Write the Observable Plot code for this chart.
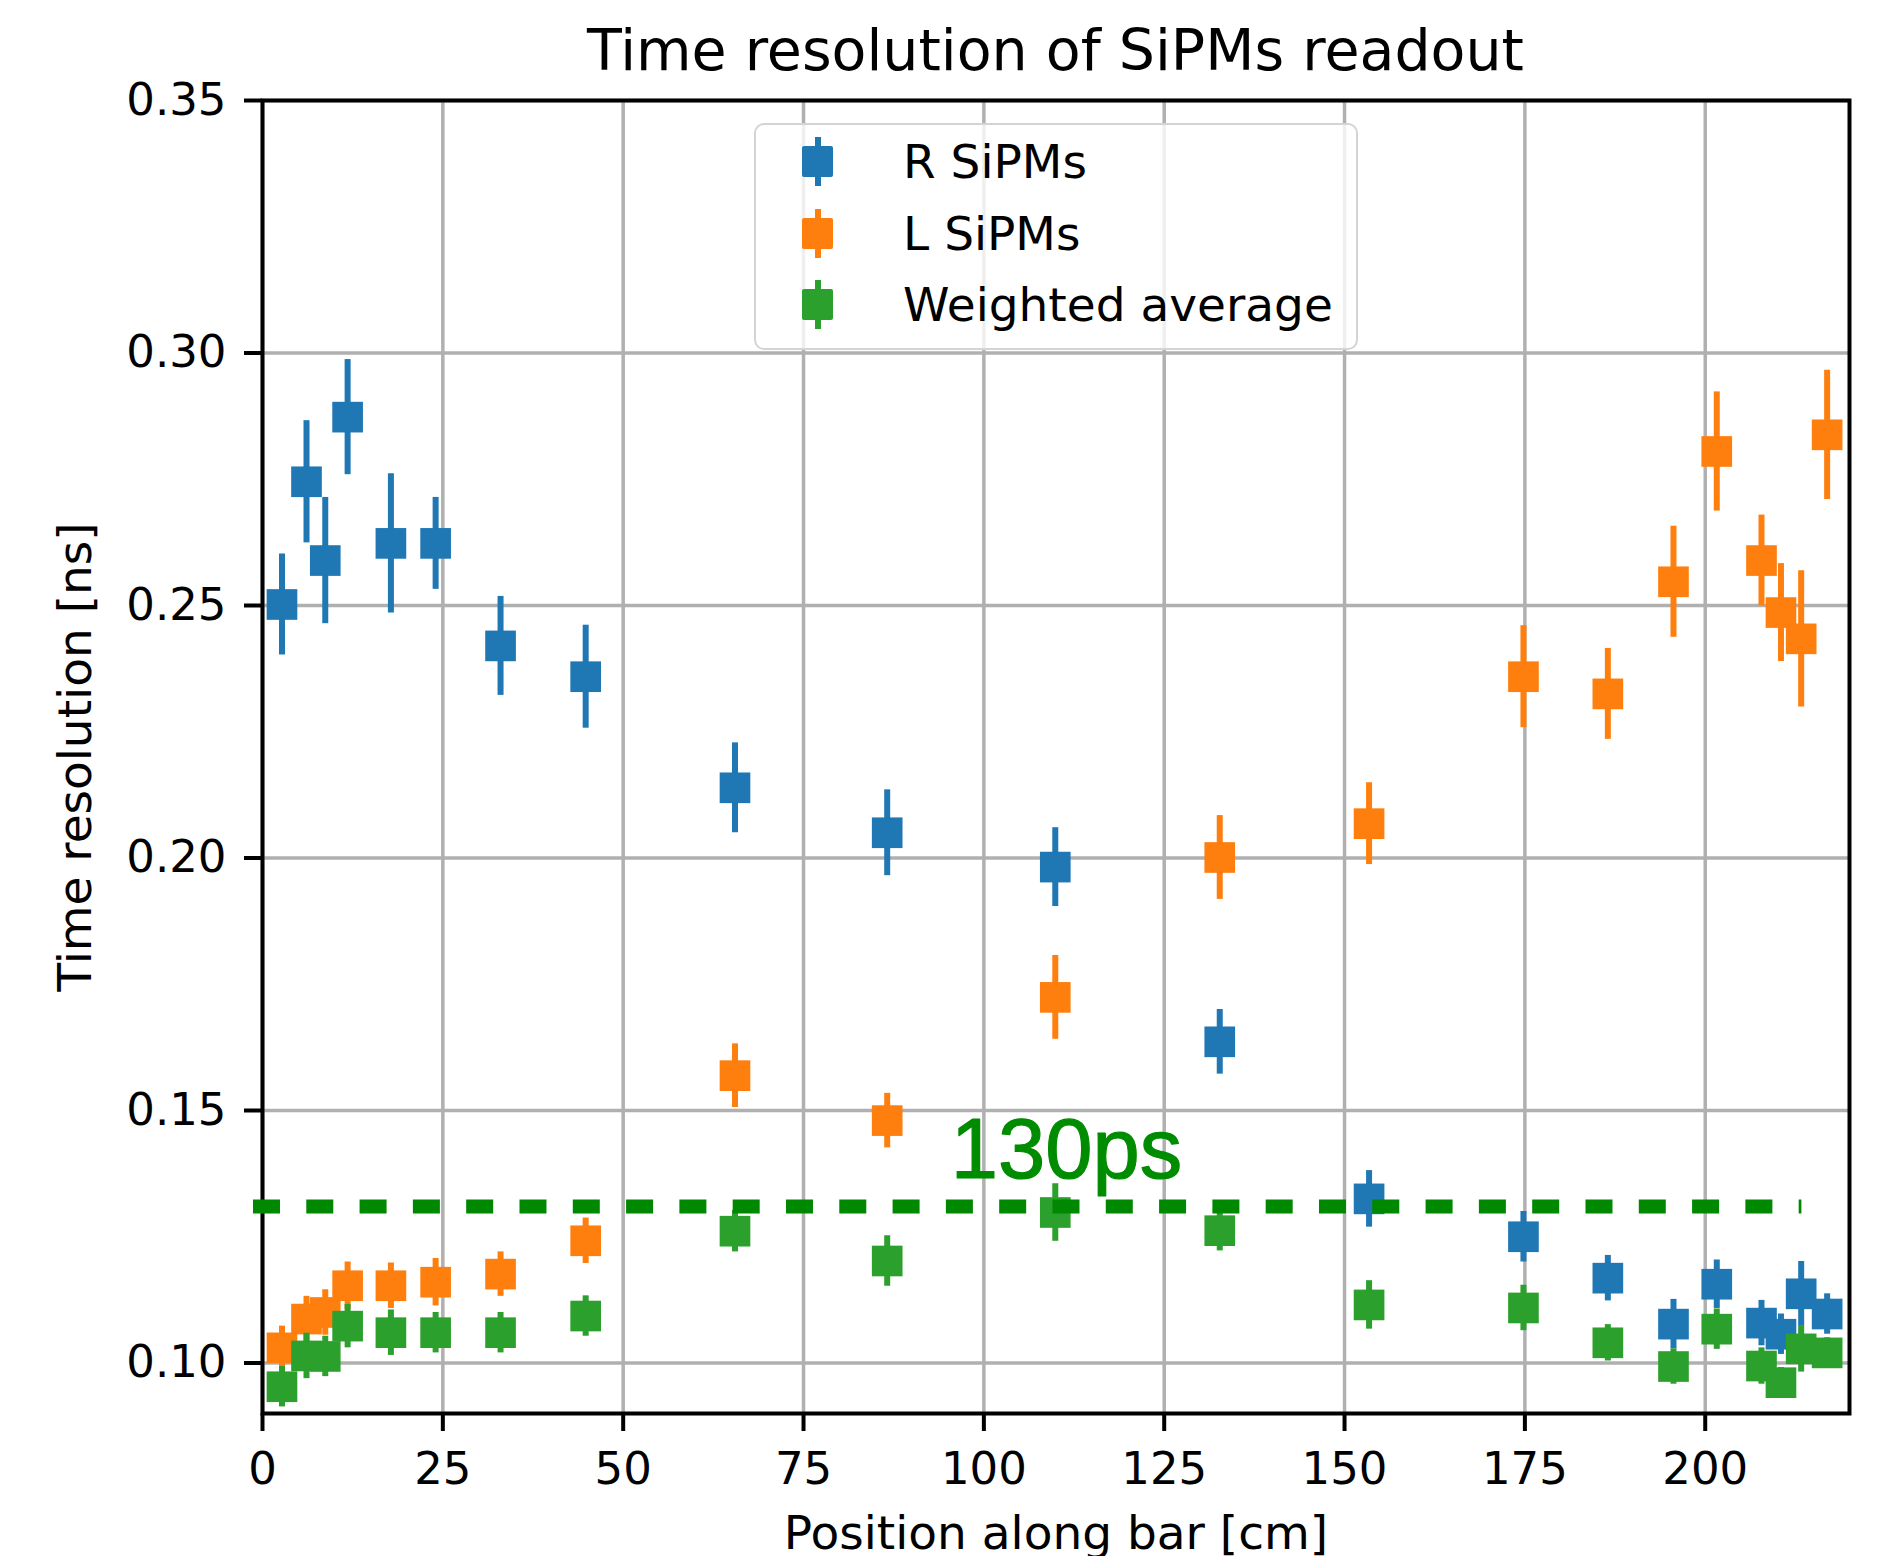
<!DOCTYPE html>
<html>
<head>
<meta charset="utf-8">
<script src="https://cdn.jsdelivr.net/npm/d3@7"></script>
<script src="https://cdn.jsdelivr.net/npm/@observablehq/plot@0.6"></script>
<style>
  html, body { margin: 0; padding: 0; background: #fff; }
  #wrap { position: relative; width: 1881px; height: 1556px; font-family: "DejaVu Sans", sans-serif; color: #000; }
  #title { box-sizing: border-box; margin-left: 262px; width: 1587px; height: 80px; padding-top: 22px;
           font-size: 57px; line-height: 57px; text-align: center; white-space: nowrap; }
  #legend { position: absolute; left: 754px; top: 123px; width: 604px; height: 227px; box-sizing: border-box;
            border: 2px solid #d4d4d4; border-radius: 10px; background: rgba(255,255,255,0.8); }
  .entry { position: absolute; left: 0; height: 60px; width: 100%; }
  .bar { position: absolute; width: 6px; height: 49px; top: 5.5px; }
  .sq { position: absolute; width: 31px; height: 31px; top: 14.5px; border-radius: 2px; }
  .lab { position: absolute; left: 147px; top: 6px; font-size: 47px; line-height: 47px; white-space: nowrap; }
</style>
</head>
<body>
<div id="wrap">
  <div id="title">Time resolution of SiPMs readout</div>
  <div id="chart"></div>
  <div id="legend"></div>
</div>
<script>
// ---- data ----
const positions = [2.7, 6.1, 8.7, 11.8, 17.8, 24.0, 33.0, 44.8, 65.5, 86.6, 109.9, 132.7, 153.4, 174.8, 186.5, 195.6, 201.6, 207.8, 210.5, 213.3, 216.9];

const rValues = [0.2502, 0.2745, 0.2589, 0.2873, 0.2623, 0.2623, 0.2420, 0.2359, 0.2139, 0.2050, 0.1982, 0.1636, 0.1325, 0.1250, 0.1168, 0.1077, 0.1156, 0.1079, 0.1057, 0.1137, 0.1097];
const rErrors = [0.0100, 0.0121, 0.0125, 0.0114, 0.0138, 0.0091, 0.0098, 0.0102, 0.0089, 0.0085, 0.0078, 0.0064, 0.0056, 0.0050, 0.0045, 0.0049, 0.0048, 0.0045, 0.0040, 0.0064, 0.0040];

const lValues = [0.1030, 0.1087, 0.1100, 0.1153, 0.1153, 0.1160, 0.1176, 0.1242, 0.1569, 0.1480, 0.1724, 0.2001, 0.2068, 0.2359, 0.2325, 0.2547, 0.2805, 0.2589, 0.2486, 0.2434, 0.2838];
const lErrors = [0.0043, 0.0045, 0.0045, 0.0047, 0.0045, 0.0047, 0.0044, 0.0045, 0.0063, 0.0054, 0.0083, 0.0083, 0.0081, 0.0101, 0.0090, 0.0110, 0.0118, 0.0090, 0.0097, 0.0135, 0.0128];

const wValues = [0.0953, 0.1014, 0.1013, 0.1073, 0.1060, 0.1060, 0.1060, 0.1093, 0.1261, 0.1202, 0.1298, 0.1262, 0.1115, 0.1109, 0.1040, 0.0993, 0.1067, 0.0994, 0.0961, 0.1028, 0.1020];
const wErrors = [0.0040, 0.0045, 0.0040, 0.0043, 0.0045, 0.0040, 0.0040, 0.0040, 0.0041, 0.0050, 0.0057, 0.0040, 0.0048, 0.0045, 0.0036, 0.0035, 0.0040, 0.0036, 0.0030, 0.0046, 0.0030];

const seriesNames = ["R SiPMs", "L SiPMs", "Weighted average"];
const seriesColors = ["#1f77b4", "#ff7f0e", "#2ca02c"];

const xTicks = [0, 25, 50, 75, 100, 125, 150, 175, 200];
const yTicks = [0.10, 0.15, 0.20, 0.25, 0.30, 0.35];

const thresholdValue = [0.131];          // "130ps" dashed reference line
const thresholdSpan = [-1.25, 213.4];    // extent of the dashed line along x
const noteText = ["130ps"];
const noteX = [95.4];
const noteY = [0.1367];

// ---- build tables ----
const seriesValues = [rValues, lValues, wValues];
const seriesErrors = [rErrors, lErrors, wErrors];
const tables = seriesNames.map((name, s) => positions.map((x, i) => ({
  x, y: seriesValues[s][i], lo: seriesValues[s][i] - seriesErrors[s][i], hi: seriesValues[s][i] + seriesErrors[s][i]
})));

const seriesMarks = [];
tables.forEach((t, s) => {
  seriesMarks.push(Plot.ruleX(t, {x: "x", y1: "lo", y2: "hi", stroke: seriesColors[s], strokeWidth: 6}));
  seriesMarks.push(Plot.dot(t, {x: "x", y: "y", symbol: "square", r: 17.3, fill: seriesColors[s], stroke: "none"}));
});

const chart = Plot.plot({
  width: 1881,
  height: 1476,
  marginLeft: 262,
  marginRight: 32,
  marginTop: 20,
  marginBottom: 143,
  style: {fontFamily: "'DejaVu Sans', sans-serif", color: "#000", background: "transparent", overflow: "visible"},
  x: {domain: [0, 220]},
  y: {domain: [0.09, 0.35]},
  marks: [
    Plot.gridX({ticks: xTicks, stroke: "#b0b0b0", strokeOpacity: 1, strokeWidth: 3.5}),
    Plot.gridY({ticks: yTicks, stroke: "#b0b0b0", strokeOpacity: 1, strokeWidth: 3.5}),
    ...seriesMarks,
    Plot.frame({stroke: "#000", strokeWidth: 4}),
    Plot.axisX({ticks: xTicks, tickSize: 18, tickPadding: 21, strokeWidth: 4, fontSize: 45, label: null}),
    Plot.axisY({ticks: yTicks, tickFormat: ".2f", tickSize: 18, tickPadding: 18, strokeWidth: 4, fontSize: 45, label: null}),
    Plot.axisX({ticks: [], tickSize: 0, fontSize: 47, label: "Position along bar [cm]", labelAnchor: "center", labelArrow: "none", labelOffset: 135}),
    Plot.axisY({ticks: [], tickSize: 0, fontSize: 47, label: "Time resolution [ns]", labelAnchor: "center", labelArrow: "none", labelOffset: 205}),
    Plot.ruleY(thresholdValue, {y: d => d, x1: () => thresholdSpan[0], x2: () => thresholdSpan[1], stroke: "#008800", strokeWidth: 14, strokeDasharray: "27 26.3"}),
    Plot.text(noteText, {x: (d, i) => noteX[i], y: (d, i) => noteY[i], text: d => d, fill: "#008c00", stroke: "#008c00", strokeWidth: 1.2,
      fontFamily: "'Liberation Sans', Arial, sans-serif", fontSize: 85, textAnchor: "start", lineAnchor: "bottom"})
  ]
});
document.getElementById("chart").appendChild(chart);

// ---- legend (inside the axes, as in the reference) ----
const legend = document.getElementById("legend");
const rowCenters = [38.5, 110.5, 181.5];
seriesNames.forEach((name, s) => {
  const e = document.createElement("div");
  e.className = "entry";
  e.style.top = (rowCenters[s] - 30 - 2) + "px";
  const bar = document.createElement("div");
  bar.className = "bar"; bar.style.left = (63.5 - 3 - 2) + "px"; bar.style.background = seriesColors[s];
  const sq = document.createElement("div");
  sq.className = "sq"; sq.style.left = (63.5 - 15.5 - 2) + "px"; sq.style.background = seriesColors[s];
  const lab = document.createElement("div");
  lab.className = "lab"; lab.textContent = name;
  e.appendChild(bar); e.appendChild(sq); e.appendChild(lab);
  legend.appendChild(e);
});
</script>
</body>
</html>
